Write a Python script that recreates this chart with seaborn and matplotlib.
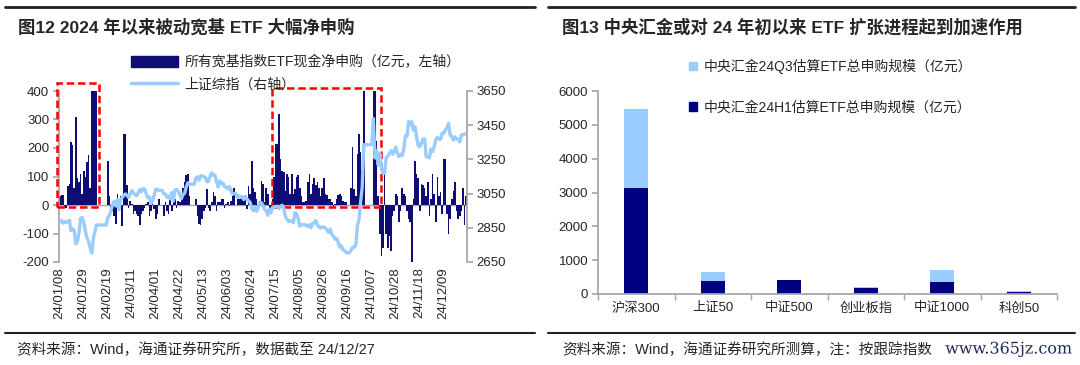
import numpy as np
import pandas as pd
import matplotlib
matplotlib.use("Agg")
import matplotlib.pyplot as plt
import matplotlib.patches as mpatches
import matplotlib.lines as mlines
import matplotlib.patheffects as pe
import seaborn as sns

# ===== Data =====
# weekday axis (Wind export keeps holidays as empty days)
dates = pd.bdate_range("2024-01-08", "2024-12-27")

# all broad-based ETF net subscription, 100m yuan (left axis)
flow = [
    30, 35, 35, -5, -10,      65, 75, 220, 210, 60,      310, 95, 80, 110, 40,
    120, 100, 150, 175, 60,   400, 400, 400, 400, 0,     0, 0, 0, 0, 0,
    155, 30, -10, -20, -40,   -65, 40, -20, 30, -75,     250, 250, 70, -10, 15,
    5, -30, -20, -30, -40,    -70, -30, -20, -10, 5,     10, -40, -20, 30, -15,
    -50, -30, 20, 0, 0,       -40, 10, -20, -30, 20,     -20, 10, 20, -10, 15,
    10, 30, 60, 80, 105,      110, 30, 0, 0, 0,          20, -40, -65, -70, -50,
    -20, -10, 55, -10, -20,   10, 45, 30, -20, 10,       10, 20, 20, -10, 5,
    10, -5, 15, 30, 60,       0, 35, 20, 30, 35,         20, 35, -15, 65, 40,
    155, 60, 45, 20, -10,     15, 85, 75, 10, 60,        40, -20, -30, 20, 100,
    215, 215, 320, 160, 120,  115, 50, 110, 100, 40,     110, 40, 55, 100, 105,
    60, 30, 10, 10, 15,       80, 110, 40, 75, 95,       70, 80, 60, 30, 60,
    95, 40, 35, 20, 20,       10, -10, 5, 20, 35,        40, 30, 15, 10, 10,
    0, 0, 60, 205, 55,        30, 180, 250, 185, 120,    400, 0, 0, 0, 0,
    0, 400, 400, 225, 30,     -100, -180, -150, 110, -100, -150, -110, -160, -40, -20,
    40, 30, -60, -20, 60,     40, 30, -20, -50, -60,     -200, 20, 155, 110, 95,
    -20, 75, 70, 60, 30,      80, -40, 20, 110, 40,      -60, 100, 30, 45, -30,
    160, 160, -30, -100, -50, 20, 50, 80, -20, -50,      -40, -20, 60, -70, 30,
]

# SSE composite close (right axis), holidays carry the last close
sse = [
    2887, 2893, 2877, 2886, 2882,  2886, 2894, 2833, 2845, 2832,  2756, 2770, 2820, 2906, 2910,
    2883, 2830, 2789, 2770, 2730,  2702, 2789, 2830, 2866, 2866,  2866, 2866, 2866, 2866, 2866,
    2910, 2922, 2951, 2988, 3004,  2977, 3016, 2957, 3015, 3027,  3039, 3048, 3040, 3027, 3046,
    3068, 3055, 3043, 3038, 3054,  3073, 3062, 3079, 3077, 3048,  3026, 3031, 2993, 3011, 3041,
    3077, 3074, 3069, 3069, 3069,  3047, 3048, 3028, 3034, 3019,  3057, 3007, 3071, 3074, 3065,
    3045, 3021, 3044, 3052, 3088,  3113, 3105, 3105, 3105, 3105,  3141, 3148, 3128, 3154, 3154,
    3148, 3145, 3120, 3122, 3154,  3171, 3157, 3158, 3116, 3089,  3124, 3109, 3111, 3091, 3087,
    3078, 3091, 3065, 3048, 3051,  3051, 3028, 3037, 3028, 3033,  3015, 3030, 3018, 3008, 2998,
    2963, 2950, 2972, 2946, 2967,  2995, 2997, 2982, 2957, 2950,  2923, 2960, 2939, 2970, 2971,
    2975, 2976, 2962, 2977, 2982,  2964, 2915, 2901, 2886, 2891,  2891, 2879, 2939, 2932, 2905,
    2860, 2867, 2869, 2870, 2862,  2858, 2868, 2850, 2877, 2879,  2893, 2867, 2856, 2848, 2855,
    2855, 2849, 2837, 2823, 2842,  2811, 2802, 2784, 2788, 2765,  2736, 2744, 2721, 2717, 2704,
    2704, 2704, 2717, 2736, 2736,  2748, 2863, 2896, 3000, 3088,  3336, 3336, 3336, 3336, 3336,
    3336, 3489, 3258, 3301, 3217,  3284, 3202, 3169, 3169, 3261,  3268, 3285, 3302, 3280, 3300,
    3322, 3286, 3266, 3280, 3272,  3310, 3387, 3384, 3471, 3452,  3470, 3421, 3439, 3380, 3331,
    3324, 3346, 3368, 3370, 3267,  3264, 3259, 3310, 3296, 3326,  3364, 3379, 3368, 3368, 3404,
    3402, 3422, 3433, 3461, 3392,  3386, 3362, 3382, 3370, 3368,  3352, 3393, 3394, 3398, 3400,
]

# highlighted periods (red dashed boxes)
boxes = [("2024-01-08", "2024-02-08", 428), ("2024-07-12", "2024-10-11", 412)]

# Central Huijin estimated ETF subscription by tracked index, 100m yuan
indices = ["沪深300", "上证50", "中证500", "创业板指", "中证1000", "科创50"]
h1 = [3140, 375, 405, 185, 345, 68]
q3_add = [2320, 285, 15, 15, 365, 10]

NAVY = "#0D0D73"
DARK = "#000080"
LIGHT = "#99CCFF"
GREY = "#A6A6A6"

# ===== Style =====
sns.set_theme(style="white")
plt.rcParams['font.family'] = ['Liberation Sans', 'Noto Sans CJK SC']
plt.rcParams['axes.unicode_minus'] = False

fig = plt.figure(figsize=(10.8, 3.65), dpi=100)
W, H = 1080, 365


def px(x0, y0, x1, y1):
    return [x0 / W, 1 - y1 / H, (x1 - x0) / W, (y1 - y0) / H]


# ===== Left chart =====
df = pd.DataFrame({"date": dates.strftime("%y/%m/%d"), "flow": flow, "sse": sse})
df["pos"] = np.arange(len(df))
n = len(df)

ax = fig.add_axes(px(59, 91, 467, 262))
sns.barplot(data=df, x="date", y="flow", color=NAVY, saturation=1, width=0.9,
            linewidth=0, ax=ax, zorder=2)
ax.axhline(0, color=GREY, lw=1, zorder=1)
ax.set_ylim(-200, 400)
ax.set_yticks(range(-200, 401, 100))
ax.set_xlim(-0.5, n - 0.5)
ax.set_xticks(range(0, n, 15))
ax.set_xticklabels(df["date"].iloc[::15], rotation=90, fontsize=9.5)
ax.tick_params(axis="x", length=0, pad=4)
ax.tick_params(axis="y", labelsize=9.5, length=4, color=GREY, direction="out", left=True, pad=3)
ax.set_xlabel("")
ax.set_ylabel("")
for s in ["top", "right", "bottom"]:
    ax.spines[s].set_visible(False)
ax.spines["left"].set_color(GREY)

ax2 = ax.twinx()
sns.lineplot(data=df, x="pos", y="sse", color=LIGHT, lw=2.4, ax=ax2)
ax2.set_ylim(2650, 3650)
ax2.set_yticks(range(2650, 3651, 200))
ax2.tick_params(axis="y", labelsize=9.5, length=4, color=GREY, direction="out", right=True, pad=3)
ax2.set_xlabel("")
ax2.set_ylabel("")
for s in ["top", "left", "bottom"]:
    ax2.spines[s].set_visible(False)
ax2.spines["right"].set_color(GREY)
ax.set_xlim(-0.5, n - 0.5)

for start, end, top in boxes:
    i0 = df.index[dates == pd.Timestamp(start)][0] - 1.5
    i1 = df.index[dates == pd.Timestamp(end)][0] + 1.5
    ax.add_patch(mpatches.Rectangle((i0, -6), i1 - i0, top + 6, fill=False, ec="#FF0000",
                                    lw=1.8, ls=(0, (3, 1.5)), clip_on=False, zorder=5))

h_bar = mpatches.Patch(color=NAVY, label="所有宽基指数ETF现金净申购（亿元，左轴）")
h_line = mlines.Line2D([], [], color=LIGHT, lw=2.5, label="上证综指（右轴）")
fig.legend(handles=[h_bar, h_line], loc="upper left", bbox_to_anchor=(125 / W, 1 - 50 / H),
           frameon=False, fontsize=10, handlelength=3.4, handleheight=0.8,
           labelspacing=0.55, handletextpad=0.5, borderaxespad=0)

# ===== Right chart =====
dr = pd.DataFrame({"index": indices, "h1": h1, "q3": q3_add})
dr["total"] = dr["h1"] + dr["q3"]

axr = fig.add_axes(px(598, 91, 1057, 294))
sns.barplot(data=dr, x="index", y="total", color=LIGHT, saturation=1, width=0.31,
            linewidth=0, ax=axr)
sns.barplot(data=dr, x="index", y="h1", color=DARK, saturation=1, width=0.31,
            linewidth=0, ax=axr)
axr.set_ylim(0, 6000)
axr.set_yticks(range(0, 6001, 1000))
axr.set_xlim(-0.5, len(indices) - 0.5)
axr.set_xlabel("")
axr.set_ylabel("")
axr.tick_params(axis="y", labelsize=9.5, length=4, color=GREY, direction="out", left=True, pad=3)
axr.tick_params(axis="x", which="major", labelsize=9.5, length=0, pad=6)
axr.set_xticks(np.arange(-0.5, len(indices)), minor=True)
axr.tick_params(axis="x", which="minor", length=4, color=GREY, direction="out", bottom=True)
for s in ["top", "right"]:
    axr.spines[s].set_visible(False)
axr.spines["left"].set_color(GREY)
axr.spines["bottom"].set_color(GREY)

hq3 = mpatches.Patch(color=LIGHT, label="中央汇金24Q3估算ETF总申购规模（亿元）")
hh1 = mpatches.Patch(color=DARK, label="中央汇金24H1估算ETF总申购规模（亿元）")
fig.legend(handles=[hq3, hh1], loc="upper left", bbox_to_anchor=(683 / W, 1 - 53 / H),
           frameon=False, fontsize=10, handlelength=0.6, handleheight=0.6,
           labelspacing=1.9, handletextpad=0.5, borderaxespad=0)

# ===== Titles, rules, sources =====
for x0, x1 in [(5, 535), (548, 1075)]:
    fig.add_artist(mlines.Line2D([x0 / W, x1 / W], [1 - 7 / H] * 2, color="#222222", lw=2))
    fig.add_artist(mlines.Line2D([x0 / W, x1 / W], [1 - 333 / H] * 2, color="#222222", lw=1.5))

fig.text(18 / W, 1 - 27 / H, "图12 2024 年以来被动宽基 ETF 大幅净申购", fontsize=12.5,
         fontweight="bold", va="center", ha="left")
fig.text(562 / W, 1 - 27 / H, "图13 中央汇金或对 24 年初以来 ETF 扩张进程起到加速作用", fontsize=12.5,
         fontweight="bold", va="center", ha="left")
fig.text(17 / W, 1 - 350 / H, "资料来源：Wind，海通证券研究所，数据截至 24/12/27", fontsize=10.5,
         va="center", ha="left")
fig.text(562 / W, 1 - 350 / H, "资料来源：Wind，海通证券研究所测算，注：按跟踪指数", fontsize=10.5,
         va="center", ha="left")
fig.text(1073 / W, 1 - 349 / H, "www.365jz.com", fontsize=11.5, family="DejaVu Serif",
         color="#1F2A5C", va="center", ha="right",
         path_effects=[pe.withStroke(linewidth=2.5, foreground="white")])

fig.savefig("out.png", dpi=100)
